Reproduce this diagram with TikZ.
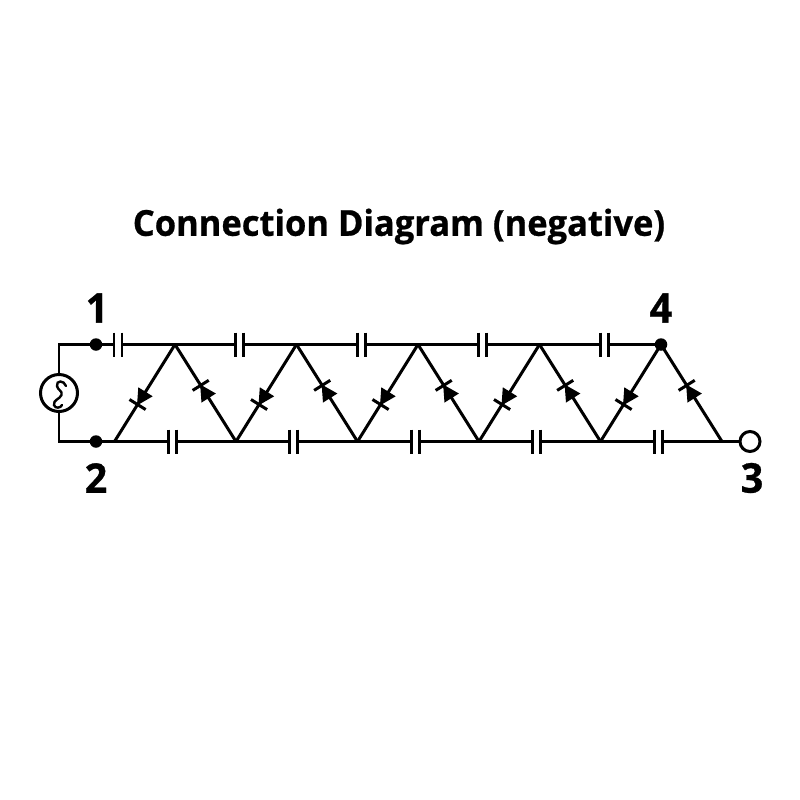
\documentclass[tikz,border=0pt]{standalone}
\usepackage{fontspec}
\setmainfont[BoldFeatures={FakeBold=0.7}]{Open Sans}
\newfontfamily\titlefont[FakeStretch=0.965,FakeBold=0.7]{Open Sans Bold}
\usepackage{xcolor}
\usetikzlibrary{arrows.meta,decorations.markings,calc}
\tikzstyle{wire} = [line width=3*0.853pt,line join=miter]
\tikzstyle{plate} = [line width=3*0.853pt]
\tikzstyle{capnode} = [inner sep=0pt,outer sep=0pt,minimum width=8*0.3mm,minimum height=24*0.3mm]
\tikzstyle{dotnode} = [circle,fill=black,inner sep=0pt,minimum size=12.5*0.3mm]
\tikzstyle{opennode} = [circle,draw=black,fill=white,line width=3*0.853pt,inner sep=0pt,minimum size=20*0.3mm]
\tikzstyle{pinlabel} = [inner sep=0pt,font=\titlefont\fontsize{35}{35}\selectfont]
\tikzstyle{diode} = [wire,postaction={decorate},decoration={markings,mark=at position #1 with {
    \fill (1,0) -- (-15,8.5) -- (-15,-8.5) -- cycle;
    \draw[plate] (0,-9.5) -- (0,9.5);}}]
\begin{document}
\begin{tikzpicture}[x=0.03cm,y=-0.03cm]
\useasboundingbox (0,0) rectangle (800,800);
% title
\node[inner sep=0pt,font=\titlefont\fontsize{30.5}{30.5}\selectfont] (title) at (399,226.5) {Connection Diagram (negative)};
% terminals
\node[dotnode] (n1) at (96,344.5) {};
\node[dotnode] (n2) at (96,441.5) {};
\node[dotnode] (n4) at (661,344.5) {};
\node[opennode] (n3) at (750,441.5) {};
\node[pinlabel] (l1) at (97,308) {1};
\node[pinlabel] (l2) at (96,478) {2};
\node[pinlabel] (l3) at (752,478) {3};
\node[pinlabel] (l4) at (661,308) {4};
% source
\node[circle,draw,line width=3*0.853pt,inner sep=0pt,minimum size=37*0.3mm] (src) at (59,393) {};
\draw[line width=2.4*0.853pt,line cap=round] (66,386) .. controls (64,380) and (56,380) .. (57,386) .. controls (57.5,390) and (63,391) .. (61.5,395) .. controls (60,399) and (53,400) .. (54,405) .. controls (55,409) and (61,408) .. (62,405);
\draw[wire] (src.north) |- (n1);
\draw[wire] (src.south) |- (n2);
% top and bottom corners
\foreach \i in {1,...,4} \coordinate (t\i) at ({175+121.5*(\i-1)},344.5);
\coordinate (t5) at (n4);
\foreach \i in {0,...,5} \coordinate (b\i) at ({114.5+121.5*\i},441.5);
% capacitors
\foreach \i in {1,...,5} {
    \node[capnode] (ct\i) at ({118+121.65*(\i-1)},344.5) {};
    \node[capnode] (cb\i) at ({172+121.65*(\i-1)},441.5) {};
    \draw[plate] (ct\i.north west) -- (ct\i.south west);
    \draw[plate] (ct\i.north east) -- (ct\i.south east);
    \draw[plate] (cb\i.north west) -- (cb\i.south west);
    \draw[plate] (cb\i.north east) -- (cb\i.south east);
    \draw[wire] (ct\i.east) -- (t\i);
    \pgfmathtruncatemacro{\j}{\i-1}
    \draw[wire] (b\j) -- (cb\i.west);
    \draw[wire] (cb\i.east) -- (b\i);
}
\draw[wire] (n1) -- (ct1.west);
\foreach \i in {1,...,4} {
    \pgfmathtruncatemacro{\j}{\i+1}
    \draw[wire] (t\i) -- (ct\j.west);
}
\draw[wire] (n2) -- (b0);
\draw[wire] (b5) -- (n3);
% diodes
\foreach \i in {1,...,5} {
    \pgfmathtruncatemacro{\j}{\i-1}
    \draw[diode=0.62] (t\i) -- (b\j);
    \draw[diode=0.58] (b\i) -- (t\i);
}
\end{tikzpicture}
\end{document}
